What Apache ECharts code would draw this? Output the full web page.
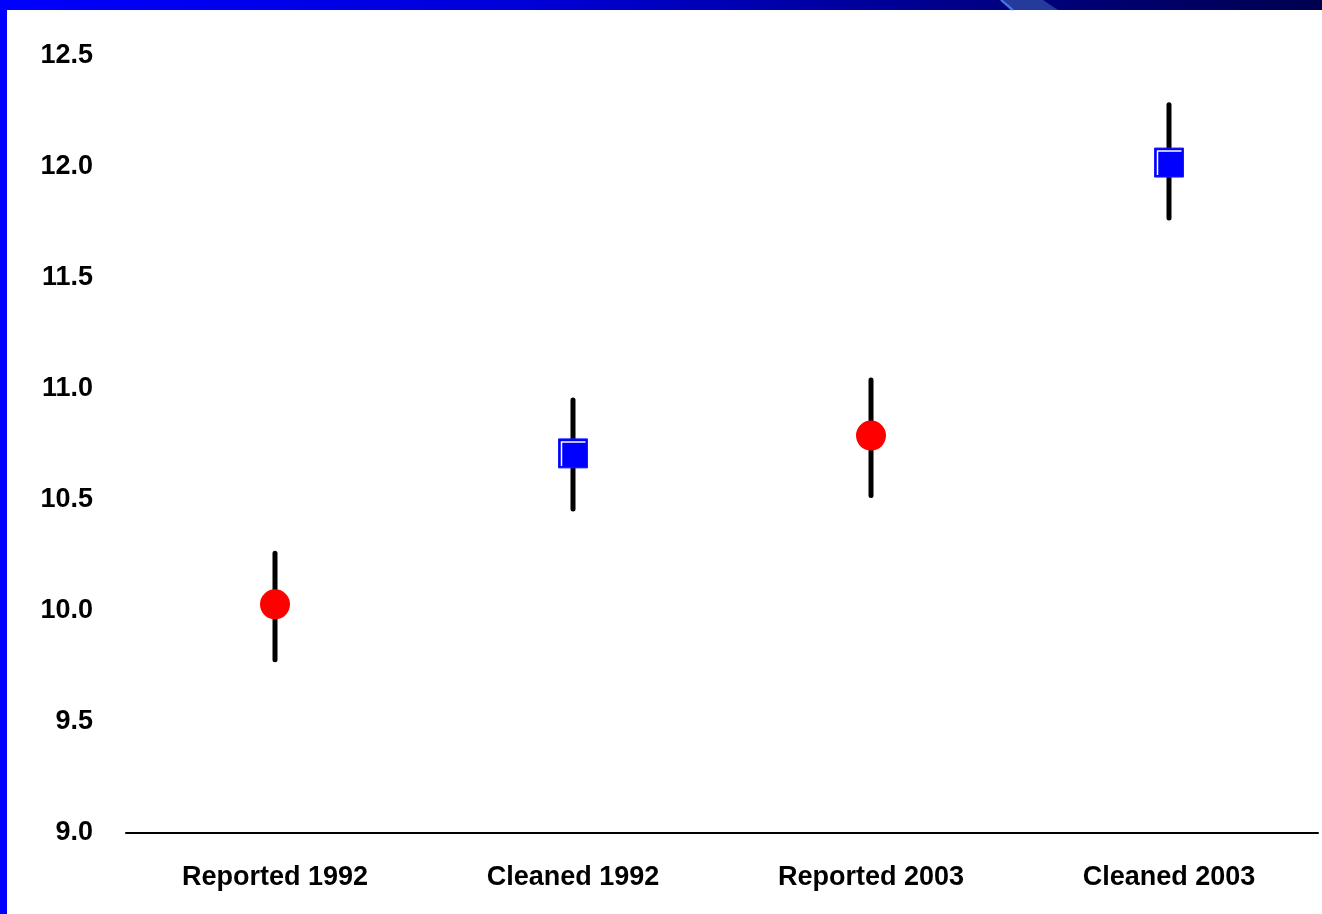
<!DOCTYPE html>
<html>
<head>
<meta charset="utf-8">
<script src="https://cdn.jsdelivr.net/npm/echarts@6/dist/echarts.min.js"></script>
<style>
html,body{margin:0;padding:0;background:#fff;}
#chart{width:1322px;height:914px;}
</style>
</head>
<body>
<div id="chart"></div>
<script>
var categories = ['Reported 1992', 'Cleaned 1992', 'Reported 2003', 'Cleaned 2003'];
var kinds = ['reported', 'cleaned', 'reported', 'cleaned'];
var means = [10.03, 10.71, 10.79, 12.02];
var upper = [10.26, 10.95, 11.04, 12.28];
var lower = [9.78, 10.46, 10.52, 11.77];
var yTicks = [9.0, 9.5, 10.0, 10.5, 11.0, 11.5, 12.0, 12.5];

var chart = echarts.init(document.getElementById('chart'), null, {renderer: 'canvas'});

var errData = categories.map(function (c, i) { return [i, lower[i], upper[i]]; });
var markData = categories.map(function (c, i) { return [i, means[i], kinds[i] === 'reported' ? 0 : 1]; });

var font = '"Liberation Sans", Arial, sans-serif';

chart.setOption({
  animation: false,
  backgroundColor: '#ffffff',
  grid: {left: 126, right: 4, top: 56, bottom: 81, containLabel: false},
  xAxis: {
    type: 'category',
    data: categories,
    boundaryGap: true,
    axisLine: {show: true, lineStyle: {color: '#000', width: 2}},
    axisTick: {show: false},
    axisLabel: {color: '#000', fontSize: 27, fontWeight: 'bold', fontFamily: font, margin: 31}
  },
  yAxis: {
    type: 'value',
    min: yTicks[0],
    max: yTicks[yTicks.length - 1],
    interval: 0.5,
    axisLine: {show: false},
    axisTick: {show: false},
    splitLine: {show: false},
    axisLabel: {
      color: '#000', fontSize: 27, fontWeight: 'bold', fontFamily: font, margin: 33,
      padding: [5, 0, 0, 0],
      formatter: function (v) { return v.toFixed(1); }
    }
  },
  graphic: [
    {type: 'rect', left: 0, top: 0, shape: {width: 7, height: 914}, style: {fill: '#0000ff'}, z: 100},
    {type: 'rect', left: 0, top: 0, shape: {width: 1322, height: 10},
      style: {fill: new echarts.graphic.LinearGradient(0, 0, 1, 0, [
        {offset: 0, color: '#0000ff'},
        {offset: 0.4, color: '#0000d8'},
        {offset: 0.65, color: '#00009c'},
        {offset: 0.8, color: '#000078'},
        {offset: 1, color: '#000050'}
      ])}, z: 100},
    {type: 'polygon', shape: {points: [[1000, 0], [1043, 0], [1058, 10], [1010, 10]]}, style: {fill: '#243b9c'}, z: 101},
    {type: 'polyline', shape: {points: [[1001, 0], [1013, 10]]}, style: {stroke: '#4a78e8', lineWidth: 2, fill: null}, z: 102}
  ],
  series: [
    {
      type: 'custom',
      data: errData,
      z: 2,
      renderItem: function (params, api) {
        var top = api.coord([api.value(0), api.value(2)]);
        var bot = api.coord([api.value(0), api.value(1)]);
        return {
          type: 'line',
          shape: {x1: top[0], y1: top[1], x2: bot[0], y2: bot[1]},
          style: {stroke: '#000', lineWidth: 5, lineCap: 'round'}
        };
      }
    },
    {
      type: 'custom',
      data: markData,
      z: 3,
      renderItem: function (params, api) {
        var p = api.coord([api.value(0), api.value(1)]);
        if (api.value(2) === 0) {
          return {
            type: 'circle',
            shape: {cx: p[0], cy: p[1], r: 15},
            style: {fill: '#ff0000'}
          };
        }
        var s = 29, x0 = p[0] - s / 2, y0 = p[1] - s / 2;
        return {
          type: 'group',
          children: [
            {type: 'rect', shape: {x: x0, y: y0, width: s, height: s}, style: {fill: '#0000ff', stroke: '#1a1aff', lineWidth: 1}},
            {type: 'polyline', shape: {points: [[x0 + 3, y0 + s - 2], [x0 + 3, y0 + 3], [x0 + s - 2, y0 + 3]]},
              style: {stroke: '#ffffff', lineWidth: 1.5, fill: null}}
          ]
        };
      }
    }
  ]
});
</script>
</body>
</html>
